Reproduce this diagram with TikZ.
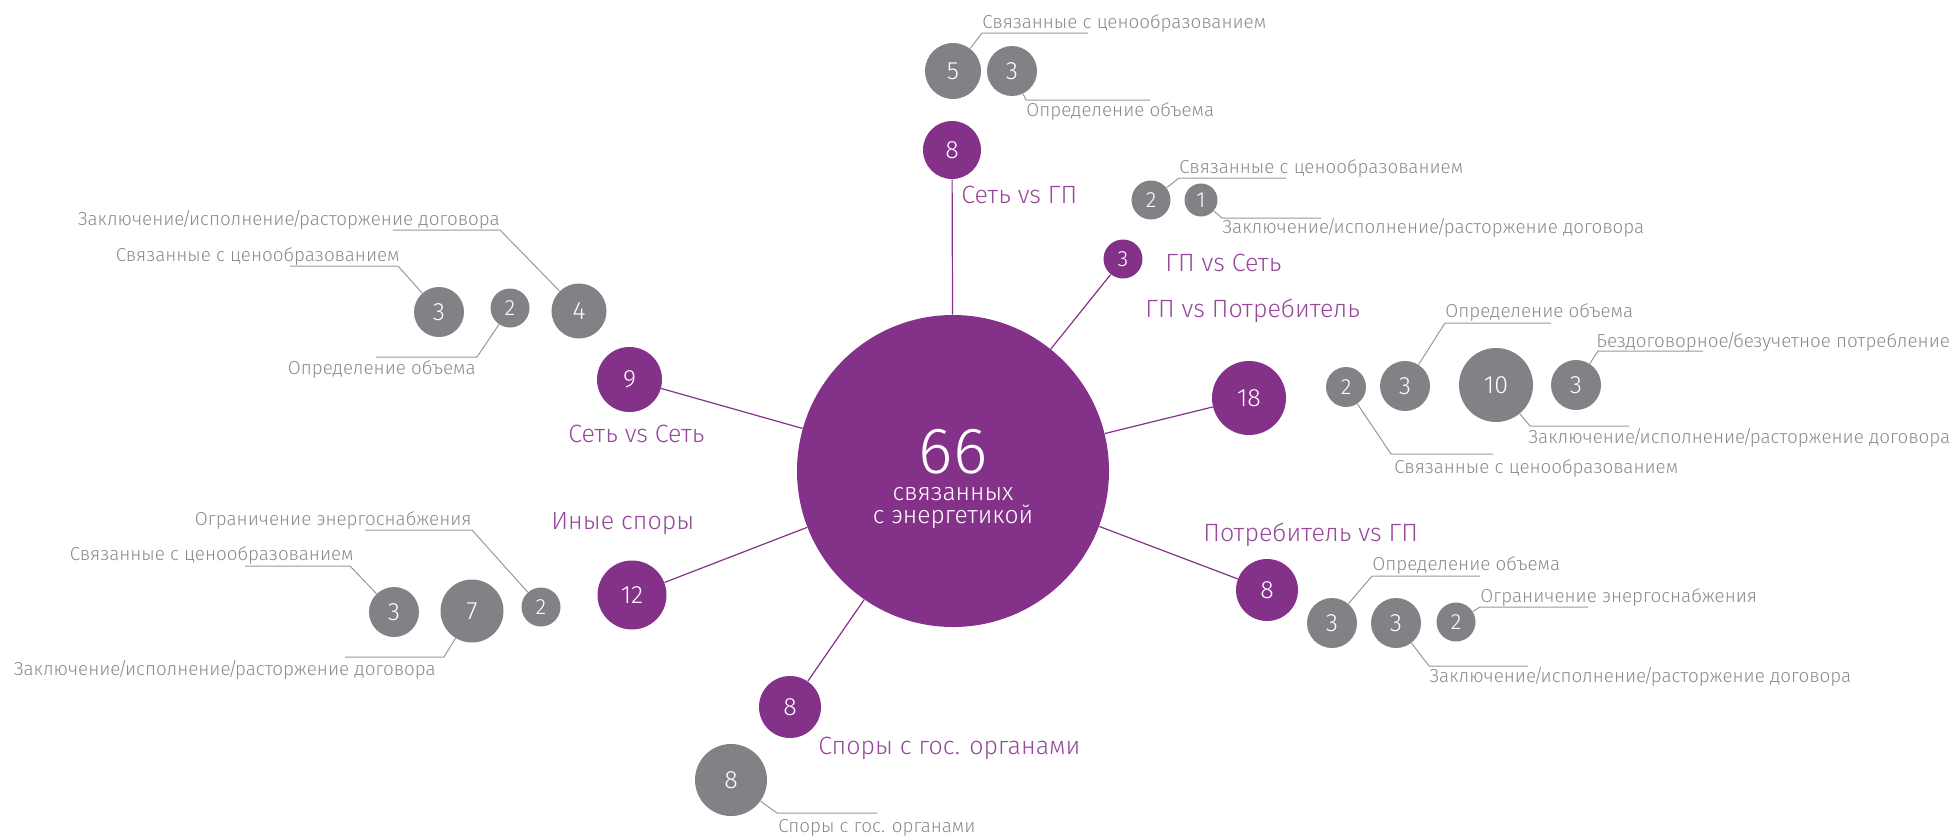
\documentclass[tikz,border=0pt]{standalone}
\usepackage{fontspec}
\setmainfont{Fira Sans}[UprightFont=* Light]
\usepackage{tikz}

\definecolor{hubpurple}{RGB}{132,49,138}
\definecolor{labpurple}{RGB}{150,72,155}
\definecolor{dotgray}{RGB}{128,130,133}
\definecolor{txtgray}{RGB}{138,138,140}
\definecolor{leadgray}{RGB}{152,152,154}

% tight slash
\newcommand{\tsl}{\kern-0.14em/\kern-0.14em}

\begin{document}
\begin{tikzpicture}[x=0.5pt,y=-0.5pt,
	pdot/.style={circle, fill=hubpurple, text=white, inner sep=0, minimum size=#1, font=\fontsize{12.5}{14}\selectfont},
	gdot/.style={circle, fill=dotgray, text=white, inner sep=0, minimum size=#1, font=\fontsize{12.5}{14}\selectfont},
	smallnum/.style={font=\fontsize{11}{13}\selectfont},
	spoke/.style={draw=hubpurple, line width=0.6pt},
	leader/.style={draw=leadgray, line width=0.5pt},
	cat/.style={text=labpurple, inner sep=0, font=\fontsize{12.5}{15}\selectfont},
	lbl/.style={text=txtgray, inner sep=0, font=\fontsize{9.4}{11}\selectfont}]

	% Frame
	\useasboundingbox (0,0) rectangle (1957,835);

	% Hub
	\node[circle, fill=hubpurple, minimum size=156pt, inner sep=0] (hub) at (953,471) {};
	\node[text=white, inner sep=0, text depth=0pt, anchor=base, font=\fontsize{32.7}{34}\selectfont] (hubnum) at (953,473) {66};
	\node[text=white, inner sep=0, anchor=base, font=\fontsize{12.3}{14}\selectfont] (hubtxt1) at (953,500) {связанных};
	\node[text=white, inner sep=0, anchor=base, font=\fontsize{12.3}{14}\selectfont] (hubtxt2) at (953,523) {с энергетикой};

	% Categories
	\node[pdot=29pt] (setgp) at (952,150) {8};
	\node[pdot=19.5pt, smallnum] (gpset) at (1123,259) {3};
	\node[pdot=37pt] (gpcons) at (1249,398) {18};
	\node[pdot=31pt] (consgp) at (1267,590) {8};
	\node[pdot=31pt] (gos) at (790,707) {8};
	\node[pdot=34.5pt] (other) at (632,595) {12};
	\node[pdot=32.5pt] (setset) at (629.5,379.5) {9};

	\foreach \n in {setgp,gpset,gpcons,consgp,gos,other,setset}
		\draw[spoke] (hub) -- (\n);

	\node[cat, anchor=base west] (setgp-t) at (961,203) {Сеть vs ГП};
	\node[cat, anchor=base west] (gpset-t) at (1165,271) {ГП vs Сеть};
	\node[cat, anchor=base west] (gpcons-t) at (1145,317) {ГП vs Потребитель};
	\node[cat, anchor=base west] (consgp-t) at (1203,541) {Потребитель vs ГП};
	\node[cat, anchor=base west] (gos-t) at (818,754) {Споры с гос. органами};
	\node[cat, anchor=base west] (other-t) at (551,529) {Иные споры};
	\node[cat, anchor=base west] (setset-t) at (568,442) {Сеть vs Сеть};

	% Сеть vs ГП
	\node[gdot=28pt] (setgp-a) at (953,71) {5};
	\node[gdot=25pt] (setgp-b) at (1012,71) {3};
	\coordinate (setgp-ac) at (982,33);
	\coordinate (setgp-bc) at (1026,100);
	\draw[leader] (setgp-a) -- (setgp-ac) -- ++(106,0);
	\draw[leader] (setgp-b) -- (setgp-bc) -- ++(124,0);
	\node[lbl, anchor=base west] (setgp-at) at (982,28.5) {Связанные с ценообразованием};
	\node[lbl, anchor=base west] (setgp-bt) at (1026,116.7) {Определение объема};

	% ГП vs Сеть
	\node[gdot=19.5pt, smallnum] (gpset-a) at (1151,200) {2};
	\node[gdot=16.5pt, smallnum] (gpset-b) at (1201,200) {1};
	\coordinate (gpset-ac) at (1179,178);
	\coordinate (gpset-bc) at (1222,218);
	\draw[leader] (gpset-a) -- (gpset-ac) -- ++(107,0);
	\draw[leader] (gpset-b) -- (gpset-bc) -- ++(99,0);
	\node[lbl, anchor=base west] (gpset-at) at (1179,173.5) {Связанные с ценообразованием};
	\node[lbl, anchor=base west] (gpset-bt) at (1222,233) {Заключение\tsl исполнение\tsl расторжение договора};

	% ГП vs Потребитель
	\node[gdot=20pt, smallnum] (gpcons-a) at (1346,387) {2};
	\node[gdot=25pt] (gpcons-b) at (1405,386) {3};
	\node[gdot=37pt] (gpcons-c) at (1496,385) {10};
	\node[gdot=25pt] (gpcons-d) at (1576,385) {3};
	\coordinate (gpcons-ac) at (1391,454);
	\coordinate (gpcons-bc) at (1445,323);
	\coordinate (gpcons-cc) at (1530,426);
	\coordinate (gpcons-dc) at (1598,351);
	\draw[leader] (gpcons-a) -- (gpcons-ac) -- ++(102,0);
	\draw[leader] (gpcons-b) -- (gpcons-bc) -- ++(106,0);
	\draw[leader] (gpcons-c) -- (gpcons-cc) -- ++(99,0);
	\draw[leader] (gpcons-d) -- (gpcons-dc) -- ++(105,0);
	\node[lbl, anchor=base west] (gpcons-at) at (1394,473) {Связанные с ценообразованием};
	\node[lbl, anchor=base west] (gpcons-bt) at (1445,317) {Определение объема};
	\node[lbl, anchor=base west] (gpcons-ct) at (1528,443) {Заключение\tsl исполнение\tsl расторжение договора};
	\node[lbl, anchor=base west] (gpcons-dt) at (1596,347) {Бездоговорное\tsl безучетное потребление};

	% Потребитель vs ГП
	\node[gdot=25pt] (consgp-a) at (1332,623) {3};
	\node[gdot=25pt] (consgp-b) at (1396,623) {3};
	\node[gdot=19.5pt, smallnum] (consgp-c) at (1456,622) {2};
	\coordinate (consgp-ac) at (1372,576);
	\coordinate (consgp-bc) at (1429,666);
	\coordinate (consgp-cc) at (1480,607);
	\draw[leader] (consgp-a) -- (consgp-ac) -- ++(108,0);
	\draw[leader] (consgp-b) -- (consgp-bc) -- ++(99,0);
	\draw[leader] (consgp-c) -- (consgp-cc) -- ++(108,0);
	\node[lbl, anchor=base west] (consgp-at) at (1372,570) {Определение объема};
	\node[lbl, anchor=base west] (consgp-bt) at (1429,682) {Заключение\tsl исполнение\tsl расторжение договора};
	\node[lbl, anchor=base west] (consgp-ct) at (1480,602) {Ограничение энергоснабжения};

	% Сеть vs Сеть
	\node[gdot=25pt] (setset-a) at (439,312) {3};
	\node[gdot=19.5pt, smallnum] (setset-b) at (510,308) {2};
	\node[gdot=27.5pt] (setset-c) at (579,311) {4};
	\coordinate (setset-ac) at (398,266);
	\coordinate (setset-bc) at (477,357);
	\coordinate (setset-cc) at (500,230);
	\draw[leader] (setset-a) -- (setset-ac) -- ++(-108,0);
	\draw[leader] (setset-b) -- (setset-bc) -- ++(-101,0);
	\draw[leader] (setset-c) -- (setset-cc) -- ++(-107,0);
	\node[lbl, anchor=base east] (setset-at) at (400,261) {Связанные с ценообразованием};
	\node[lbl, anchor=base east] (setset-bt) at (476,374) {Определение объема};
	\node[lbl, anchor=base east] (setset-ct) at (500,225) {Заключение\tsl исполнение\tsl расторжение договора};

	% Иные споры
	\node[gdot=25pt] (other-a) at (394,612) {3};
	\node[gdot=31.5pt] (other-b) at (472,611) {7};
	\node[gdot=19.5pt, smallnum] (other-c) at (541,607) {2};
	\coordinate (other-ac) at (350,566);
	\coordinate (other-bc) at (444,657);
	\coordinate (other-cc) at (472,530);
	\draw[leader] (other-a) -- (other-ac) -- ++(-105,0);
	\draw[leader] (other-b) -- (other-bc) -- ++(-99,0);
	\draw[leader] (other-c) -- (other-cc) -- ++(-107,0);
	\node[lbl, anchor=base east] (other-at) at (354,560) {Связанные с ценообразованием};
	\node[lbl, anchor=base east] (other-bt) at (436,675) {Заключение\tsl исполнение\tsl расторжение договора};
	\node[lbl, anchor=base east] (other-ct) at (472,525) {Ограничение энергоснабжения};

	% Споры с гос. органами
	\node[gdot=36pt] (gos-a) at (731,780) {8};
	\coordinate (gos-ac) at (777,813);
	\draw[leader] (gos-a) -- (gos-ac) -- ++(100,0);
	\node[lbl, anchor=base west] (gos-at) at (778,832) {Споры с гос. органами};

\end{tikzpicture}
\end{document}
